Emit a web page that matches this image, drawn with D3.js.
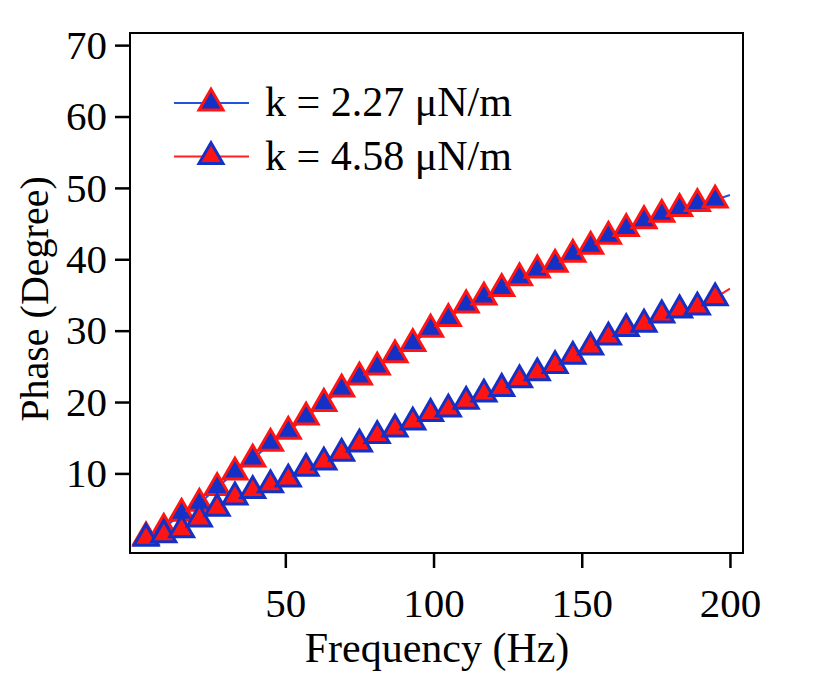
<!DOCTYPE html>
<html>
<head>
<meta charset="utf-8">
<script src="https://cdn.jsdelivr.net/npm/d3@7"></script>
<style>
  body { margin: 0; background: #fff; }
  text { font-family: "Liberation Serif", "Times New Roman", serif; }
</style>
</head>
<body>
<div id="chart"></div>
<script>
// data
var freq = [3, 9, 15, 21, 27, 33, 39, 45, 51, 57, 63, 69, 75, 81, 87, 93, 99,
  105, 111, 117, 123, 129, 135, 141, 147, 153, 159, 165, 171, 177, 183, 189, 195];

var phaseK227 = [1.1, 2.3, 4.4, 5.8, 8.0, 10.2, 12.0, 14.2, 15.9, 17.9, 19.8,
  21.8, 23.5, 24.9, 26.6, 28.2, 30.2, 31.7, 33.6, 34.7, 35.9, 37.4, 38.5, 39.3,
  40.7, 41.8, 43.2, 44.3, 45.4, 46.3, 47.1, 47.8, 48.3];

var phaseK458 = [0.9, 1.4, 2.1, 3.6, 5.1, 6.7, 7.6, 8.4, 9.2, 10.7, 11.6,
  12.8, 14.1, 15.3, 16.2, 17.2, 18.4, 19.0, 20.1, 21.1, 21.9, 23.1, 24.1, 25.1,
  26.4, 27.7, 29.1, 30.3, 30.9, 32.2, 32.9, 33.3, 34.6];

// where the fitted lines end (200 Hz)
var lineEndFreq = 200;
var lineEnd = [49.0, 35.9];

var seriesNames = ["k = 2.27 \u03bcN/m", "k = 4.58 \u03bcN/m"];
var xTicks = [50, 100, 150, 200];
var yTicks = [10, 20, 30, 40, 50, 60, 70];

var BLUE = "#1530c4", RED = "#ff1414";
var LINE_BLUE = "#2352e0", LINE_RED = "#ff2020";

var width = 825, height = 675;
var margin = {top: 33, right: 82, bottom: 122, left: 130};
var w = width - margin.left - margin.right;
var h = height - margin.top - margin.bottom;

var svg = d3.select("#chart").append("svg")
    .attr("width", width).attr("height", height);
var g = svg.append("g")
    .attr("transform", "translate(" + margin.left + "," + margin.top + ")");

var x = d3.scaleLinear().domain([-2.4, 204.4]).range([0, w]);
var y = d3.scaleLinear().domain([-1.15, 71.7]).range([h, 0]);

// triangle with its centroid on the point
function triangle(s) {
  var ht = s * Math.sqrt(3) / 2;
  return "M0," + (-2 * ht / 3) + "L" + (s / 2) + "," + (ht / 3) +
    "L" + (-s / 2) + "," + (ht / 3) + "Z";
}

// axes
var yAxis = g.append("g").call(d3.axisLeft(y).tickValues(yTicks)
    .tickSize(15).tickPadding(8));
var xAxis = g.append("g").attr("transform", "translate(0," + h + ")")
    .call(d3.axisBottom(x).tickValues(xTicks).tickSize(15).tickPadding(20));

[xAxis, yAxis].forEach(function(a) {
  a.select(".domain").remove();
  a.selectAll(".tick line").attr("stroke", "#000").attr("stroke-width", 2.5);
  a.selectAll(".tick text").attr("fill", "#000")
    .style("font-size", "41px").style("font-family", "Liberation Serif");
});

// frame
g.append("rect").attr("width", w).attr("height", h)
  .attr("fill", "none").attr("stroke", "#000").attr("stroke-width", 2);

var series = [
  {values: phaseK227, end: lineEnd[0], line: LINE_BLUE, fill: BLUE, stroke: RED},
  {values: phaseK458, end: lineEnd[1], line: LINE_RED, fill: RED, stroke: BLUE}
];

var line = d3.line().x(function(d) { return x(d[0]); })
  .y(function(d) { return y(d[1]); });

series.forEach(function(s) {
  var pts = freq.map(function(f, i) { return [f, s.values[i]]; });
  pts.push([lineEndFreq, s.end]);
  g.append("path").datum(pts).attr("d", line)
    .attr("fill", "none").attr("stroke", s.line).attr("stroke-width", 2);
});

series.forEach(function(s) {
  g.append("g").selectAll("path").data(s.values).join("path")
    .attr("d", triangle(24))
    .attr("transform", function(d, i) {
      return "translate(" + x(freq[i]) + "," + y(d) + ")";
    })
    .attr("fill", s.fill).attr("stroke", s.stroke).attr("stroke-width", 3)
    .attr("stroke-linejoin", "miter");
});

// legend
var legend = svg.append("g").attr("transform", "translate(174,103)");
series.forEach(function(s, i) {
  var row = legend.append("g").attr("transform", "translate(0," + i * 53.5 + ")");
  row.append("line").attr("x1", 0).attr("x2", 75)
    .attr("stroke", s.line).attr("stroke-width", 2);
  row.append("path").attr("d", triangle(24)).attr("transform", "translate(37,0)")
    .attr("fill", s.fill).attr("stroke", s.stroke).attr("stroke-width", 3);
  row.append("text").attr("x", 91).attr("y", 13)
    .style("font-size", "42px").text(seriesNames[i]);
});

// axis titles
svg.append("text").attr("x", 437).attr("y", 662).attr("text-anchor", "middle")
  .style("font-size", "42px").text("Frequency (Hz)");
svg.append("text").attr("transform", "translate(48,299) rotate(-90)")
  .attr("text-anchor", "middle").style("font-size", "40px").text("Phase (Degree)");
</script>
</body>
</html>
